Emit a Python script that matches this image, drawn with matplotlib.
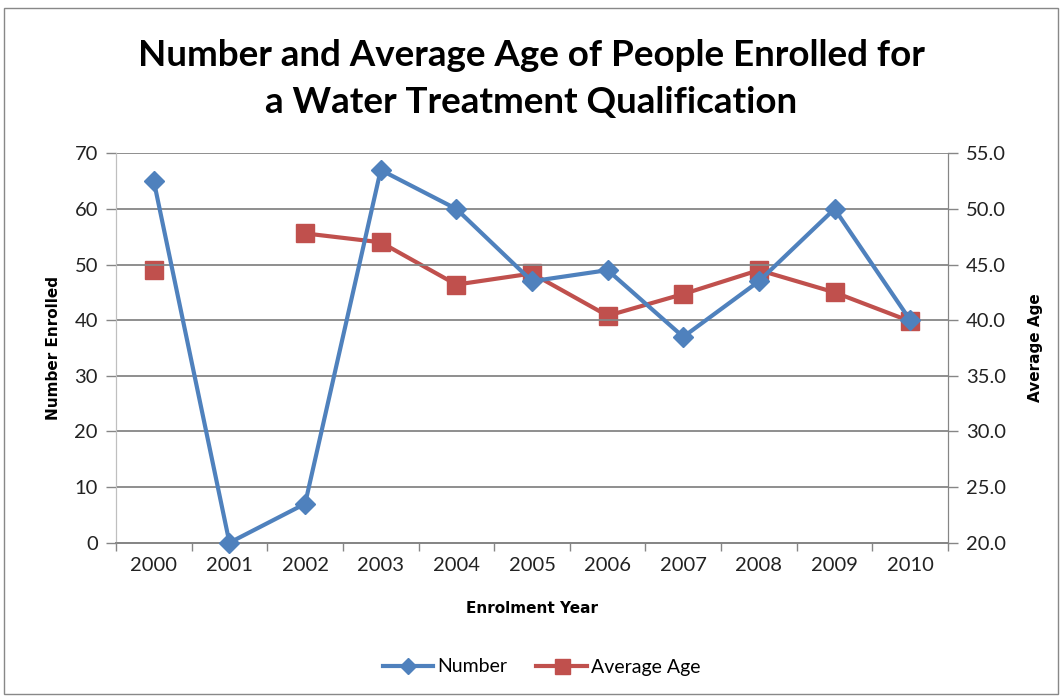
import numpy as np
import matplotlib.pyplot as plt
from matplotlib.patches import Rectangle

# Enrolment data
years = ['2000', '2001', '2002', '2003', '2004', '2005', '2006', '2007', '2008', '2009', '2010']
number = [65, 0, 7, 67, 60, 47, 49, 37, 47, 60, 40]
avg_age = [44.5, np.nan, 47.8, 47.0, 43.2, 44.2, 40.4, 42.35, 44.5, 42.5, 39.9]

left_ticks = [0, 10, 20, 30, 40, 50, 60, 70]
right_ticks = [20.0, 25.0, 30.0, 35.0, 40.0, 45.0, 50.0, 55.0]

blue = '#4F81BD'
red = '#C0504D'
grid = '#868686'
font = ['Lato', 'DejaVu Sans']
label_font = dict(family='DejaVu Sans', fontsize=11, fontweight='bold')

plt.rcParams['font.family'] = font

fig = plt.figure(figsize=(10.62, 6.98), dpi=100)
ax = fig.add_axes([116 / 1062, 1 - 542.7 / 698, (948 - 116) / 1062, (542.7 - 153.3) / 698])
ax2 = ax.twinx()

x = np.arange(len(years))

l1, = ax.plot(x, number, color=blue, lw=3, marker='D', markersize=10,
              markeredgecolor=blue, label='Number', zorder=3, clip_on=False)
l2, = ax2.plot(x, avg_age, color=red, lw=3, marker='s', markersize=13.5,
               markeredgecolor=red, label='Average Age', zorder=3, clip_on=False)

ax.set_xlim(-0.5, len(years) - 0.5)
ax.set_ylim(0, 70)
ax2.set_ylim(20, 55)
ax.set_yticks(left_ticks)
ax.set_yticklabels([str(t) for t in left_ticks])
ax2.set_yticks(right_ticks)
ax2.set_yticklabels([f'{t:.1f}' for t in right_ticks])

ax.set_xticks(x)
ax.set_xticklabels(years)
ax.set_xticks(np.arange(-0.5, len(years)), minor=True)
ax.tick_params(axis='x', which='major', length=0, pad=10, labelsize=14.5, colors='#222222')
ax.tick_params(axis='x', which='minor', length=6, color=grid, width=1)
ax.tick_params(axis='y', length=7, color=grid, width=1, pad=6, labelsize=14.5, labelcolor='#222222')
ax2.tick_params(axis='y', length=7, color=grid, width=1, pad=6, labelsize=14.5, labelcolor='#222222')

ax.grid(axis='y', color=grid, lw=1.3)
ax.set_axisbelow(True)
for a in (ax, ax2):
    a.spines['top'].set_visible(False)
    a.spines['left'].set_color('#BFBFBF')
    a.spines['right'].set_color(grid)
    a.spines['bottom'].set_color(grid)
    a.spines['bottom'].set_linewidth(1.3)
ax.patch.set_visible(False)
ax.set_zorder(ax2.get_zorder() + 1)

ax.set_xlabel('Enrolment Year', labelpad=20, **label_font)
ax.set_ylabel('Number Enrolled', labelpad=10, **label_font)
ax2.set_ylabel('Average Age', labelpad=16, rotation=90, **label_font)

fig.text(0.5, 1 - 79 / 698, 'Number and Average Age of People Enrolled for\na Water Treatment Qualification',
         ha='center', va='center', fontsize=26.5, fontweight='bold', linespacing=1.55)

fig.legend(handles=[l1, l2], loc='center', bbox_to_anchor=(0.51, 1 - 667 / 698), ncol=2,
           frameon=False, fontsize=14, handlelength=2.6, columnspacing=1.5, handletextpad=0.2,
           markerscale=0.8)

fig.patches.append(Rectangle((4 / 1062, 1 - 694 / 698), 1054 / 1062, 686 / 698,
                             transform=fig.transFigure, fill=False, edgecolor='#888888', lw=1))

fig.savefig('out.png', dpi=100)
